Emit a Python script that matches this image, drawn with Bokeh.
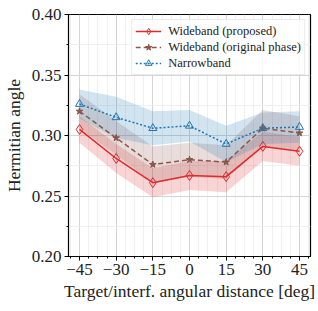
from bokeh.plotting import figure
from bokeh.models import FixedTicker, Legend, LegendItem, ColumnDataSource
from bokeh.embed import file_html
from bokeh.resources import INLINE

x = [-45, -30, -15, 0, 15, 30, 45]
red = [0.305, 0.281, 0.261, 0.267, 0.266, 0.291, 0.287]
brown = [0.320, 0.298, 0.276, 0.280, 0.278, 0.306, 0.302]
blue = [0.326, 0.315, 0.306, 0.308, 0.293, 0.306, 0.307]
red_sd = [0.011, 0.012, 0.012, 0.012, 0.013, 0.012, 0.012]
brown_sd = [0.014, 0.014, 0.015, 0.014, 0.014, 0.015, 0.014]
blue_sd = [0.012, 0.017, 0.014, 0.013, 0.015, 0.013, 0.013]
labels = ["Wideband (proposed)", "Wideband (original phase)", "Narrowband"]
x_ticks = [-45, -30, -15, 0, 15, 30, 45]
y_ticks = [0.20, 0.25, 0.30, 0.35, 0.40]

FONT = "Liberation Serif"
C_RED = "#e3282a"
C_BROWN = "#8c564b"
C_BLUE = "#1f77b4"

p = figure(width=316, height=303, x_range=(-49.5, 49.5), y_range=(0.20, 0.40),
           output_backend="svg", toolbar_location=None,
           min_border_left=66, min_border_right=6, min_border_top=14, min_border_bottom=46)

p.outline_line_color = "black"
p.outline_line_width = 1.2

minor_x = [m for m in [-48.75 + 3.75 * i for i in range(27)] if m not in x_ticks]
p.xaxis.ticker = FixedTicker(ticks=x_ticks, minor_ticks=minor_x)
minor_y = [0.225, 0.275, 0.325, 0.375]
p.yaxis.ticker = FixedTicker(ticks=y_ticks, minor_ticks=minor_y)
p.xaxis.major_label_overrides = {t: (("\u2212" + str(-t)) if t < 0 else str(t)) for t in x_ticks}
p.yaxis.major_label_overrides = {t: "%.2f" % t for t in y_ticks}

for ax in (p.xaxis[0], p.yaxis[0]):
    ax.major_tick_out = 4
    ax.major_tick_in = 0
    ax.minor_tick_out = 2
    ax.minor_tick_in = 0
    ax.axis_line_color = "black"
    ax.major_tick_line_color = "black"
    ax.minor_tick_line_color = "black"
    ax.major_label_text_font = FONT
    ax.major_label_text_font_size = "17px"
    ax.major_label_text_color = "#222222"
    ax.axis_label_text_font = FONT
    ax.axis_label_text_font_size = "17.5px"
    ax.axis_label_text_font_style = "normal"
    ax.axis_label_text_color = "#222222"

p.xaxis.axis_label = "Target/interf. angular distance [deg]"
p.yaxis.axis_label = "Hermitian angle"
p.xaxis.axis_label_standoff = 3
p.yaxis.axis_label_standoff = 5
p.xaxis.major_label_standoff = 3
p.yaxis.major_label_standoff = 3

for g in (p.xgrid[0], p.ygrid[0]):
    g.grid_line_color = "#d4d4d4"
    g.grid_line_width = 1
    g.minor_grid_line_color = "#ececec"
    g.minor_grid_line_width = 0.8

series = [(red, red_sd, C_RED), (brown, brown_sd, C_BROWN), (blue, blue_sd, C_BLUE)]
for vals, sd, c in series:
    src = ColumnDataSource(dict(x=x, lo=[v - s for v, s in zip(vals, sd)],
                                hi=[v + s for v, s in zip(vals, sd)]))
    p.varea(x="x", y1="lo", y2="hi", source=src, fill_color=c, fill_alpha=0.2)

l1 = p.line(x, red, line_color=C_RED, line_width=1.5)
m1 = p.scatter(x, red, marker="diamond", size=10, line_color=C_RED, fill_color="white",
               fill_alpha=0.0, line_width=1)
l2 = p.line(x, brown, line_color=C_BROWN, line_width=1.5, line_dash="5 3")
m2 = p.scatter(x, brown, marker="star", size=7, line_color=C_BROWN, fill_color=C_BROWN,
               line_width=1)
l3 = p.line(x, blue, line_color=C_BLUE, line_width=1.5, line_dash="2 2")
m3 = p.scatter(x, blue, marker="triangle", size=8, line_color=C_BLUE, fill_color="white",
               fill_alpha=0.0, line_width=1)

legend = Legend(items=[LegendItem(label=labels[0], renderers=[l1, m1]),
                       LegendItem(label=labels[1], renderers=[l2, m2]),
                       LegendItem(label=labels[2], renderers=[l3, m3])],
                location="top_right")
legend.label_text_font = FONT
legend.label_text_font_size = "12.5px"
legend.label_text_color = "#222222"
legend.glyph_width = 26
legend.glyph_height = 16
legend.label_height = 16
legend.spacing = 0
legend.padding = 3
legend.margin = 5
legend.label_standoff = 7
legend.border_line_color = "#d8d8d8"
legend.border_line_width = 1
legend.background_fill_alpha = 0.85
p.add_layout(legend)

open("out.html", "w").write(file_html(p, INLINE))
